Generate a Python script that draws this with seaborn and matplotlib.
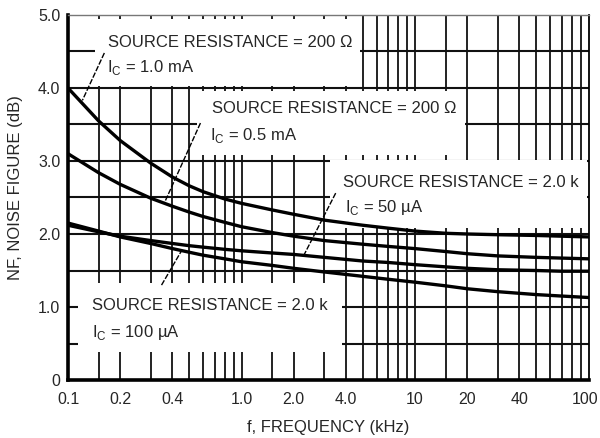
import numpy as np
import pandas as pd
import matplotlib
matplotlib.use("Agg")
import matplotlib.pyplot as plt
import matplotlib.transforms as mtransforms
from matplotlib.patches import Rectangle
from matplotlib.ticker import FixedLocator, NullFormatter
import seaborn as sns

# ---------------- data ----------------
freq_khz = [0.1, 0.15, 0.2, 0.3, 0.4, 0.5, 0.6, 0.8, 1.0, 1.5, 2.0, 3.0,
            5.0, 7.0, 10, 15, 20, 30, 50, 70, 100]
nf_200ohm_1ma = [4.00, 3.55, 3.28, 2.97, 2.78, 2.66, 2.58, 2.48, 2.42, 2.33, 2.27,
                 2.19, 2.12, 2.08, 2.04, 2.01, 2.00, 1.99, 1.98, 1.97, 1.96]
nf_200ohm_05ma = [3.10, 2.84, 2.68, 2.49, 2.38, 2.30, 2.24, 2.16, 2.10, 2.02, 1.97,
                  1.91, 1.86, 1.83, 1.80, 1.76, 1.73, 1.70, 1.68, 1.67, 1.66]
nf_2k_50ua = [2.12, 2.03, 1.97, 1.91, 1.87, 1.84, 1.82, 1.79, 1.77, 1.74, 1.72,
              1.68, 1.63, 1.61, 1.58, 1.55, 1.53, 1.51, 1.50, 1.49, 1.49]
nf_2k_100ua = [2.15, 2.04, 1.96, 1.87, 1.80, 1.75, 1.71, 1.66, 1.62, 1.57, 1.53,
               1.48, 1.42, 1.38, 1.34, 1.29, 1.25, 1.21, 1.17, 1.15, 1.13]
series_names = ["200 ohm, 1.0 mA", "200 ohm, 0.5 mA", "2.0k, 50 uA", "2.0k, 100 uA"]

x_ticks = [0.1, 0.2, 0.4, 1.0, 2.0, 4.0, 10, 20, 40, 100]
x_tick_labels = ["0.1", "0.2", "0.4", "1.0", "2.0", "4.0", "10", "20", "40", "100"]
x_grid = [0.15, 0.2, 0.3, 0.4, 0.5, 0.6, 0.7, 0.8, 0.9,
          1.0, 1.5, 2, 3, 4, 5, 6, 7, 8, 9,
          10, 15, 20, 30, 40, 50, 60, 70, 80, 90]
y_ticks = [0, 1.0, 2.0, 3.0, 4.0, 5.0]
y_tick_labels = ["0", "1.0", "2.0", "3.0", "4.0", "5.0"]
y_grid = [0.5, 1.0, 1.5, 2.0, 2.5, 3.0, 3.5, 4.0, 4.5]

label_lines = [
    ("SOURCE RESISTANCE = 200 \u03a9", "I$_\\mathregular{C}$ = 1.0 mA"),
    ("SOURCE RESISTANCE = 200 \u03a9", "I$_\\mathregular{C}$ = 0.5 mA"),
    ("SOURCE RESISTANCE = 2.0 k", "I$_\\mathregular{C}$ = 50 \u00b5A"),
    ("SOURCE RESISTANCE = 2.0 k", "I$_\\mathregular{C}$ = 100 \u00b5A"),
]
# pointer segments (label -> curve) in data coords: (f0, y0, f1, y1)
pointers = [
    (0.162, 4.48, 0.121, 3.83),
    (0.58, 3.52, 0.36, 2.43),
    (3.49, 2.56, 2.30, 1.72),
    (0.346, 1.30, 0.451, 1.77),
]

# ---------------- build frame ----------------
df = pd.concat([
    pd.DataFrame({"freq": freq_khz, "nf": vals, "curve": name})
    for name, vals in zip(series_names,
                          [nf_200ohm_1ma, nf_200ohm_05ma, nf_2k_50ua, nf_2k_100ua])
], ignore_index=True)

sns.set_style("white")
plt.rcParams["font.family"] = ["Liberation Sans", "DejaVu Sans"]
plt.rcParams["mathtext.fontset"] = "custom"
plt.rcParams["mathtext.rm"] = "Liberation Sans"

fig = plt.figure(figsize=(6.0, 4.38), dpi=100)
ax = fig.add_axes([68 / 600, 58 / 438, 520.5 / 600, 365 / 438])
ax.set_xscale("log")
ax.set_xlim(0.1, 100)
ax.set_ylim(0, 5.0)

# ticks
ax.xaxis.set_major_locator(FixedLocator(x_ticks))
ax.xaxis.set_minor_locator(FixedLocator(x_grid))
ax.xaxis.set_minor_formatter(NullFormatter())
ax.set_xticklabels(x_tick_labels)
ax.yaxis.set_major_locator(FixedLocator(y_ticks))
ax.yaxis.set_minor_locator(FixedLocator(y_grid))
ax.set_yticklabels(y_tick_labels)

# grid
for f in x_grid:
    ax.axvline(f, color="#111111", lw=1.3, zorder=0.5)
for y in y_grid:
    ax.axhline(y, color="#111111", lw=1.5, zorder=0.5)

ax.tick_params(axis="both", which="both", length=0)
ax.tick_params(axis="x", pad=9, labelsize=11.5)
ax.tick_params(axis="y", pad=5.5, labelsize=11.5)

# keep the last x tick label ("100") inside the canvas
last = ax.get_xticklabels()[-1]
last.set_transform(last.get_transform() +
                   mtransforms.ScaledTranslation(-3 / 100, 0, fig.dpi_scale_trans))

# white label boxes that interrupt the grid (axes fraction)
boxes = [(0.052, 0.806, 0.5095, 0.183),
         (0.248, 0.616, 0.515, 0.177),
         (0.504, 0.416, 0.494, 0.187),
         (0.019, 0.077, 0.508, 0.189)]
for (bx, by, bw, bh) in boxes:
    ax.add_patch(Rectangle((bx, by), bw, bh, transform=ax.transAxes,
                           facecolor="white", edgecolor="none", zorder=1))

# curves
sns.lineplot(data=df, x="freq", y="nf", hue="curve", palette=["black"] * 4,
             legend=False, lw=2.4, ax=ax, zorder=3)

# pointers
for f0, y0, f1, y1 in pointers:
    ax.plot([f0, f1], [y0, y1], color="black", lw=1.0,
            linestyle=(0, (4, 1.2)), zorder=3)

# label text (axes fraction, baselines)
text_pos = [((0.077, 0.912), (0.075, 0.844)),
            ((0.276, 0.7315), (0.273, 0.6575)),
            ((0.529, 0.529), (0.533, 0.460)),
            ((0.046, 0.192), (0.046, 0.118))]
for (l1, l2), (p1, p2) in zip(label_lines, text_pos):
    ax.text(p1[0], p1[1], l1, transform=ax.transAxes, fontsize=12,
            ha="left", va="baseline", zorder=4)
    ax.text(p2[0], p2[1], l2, transform=ax.transAxes, fontsize=12,
            ha="left", va="baseline", zorder=4)

# spines
for side in ["left", "bottom"]:
    ax.spines[side].set_linewidth(2.6)
    ax.spines[side].set_color("black")
ax.spines["right"].set_linewidth(1.3)
ax.spines["right"].set_color("black")
ax.spines["top"].set_linewidth(1.0)
ax.spines["top"].set_color("#777777")

ax.set_xlabel("f, FREQUENCY (kHz)", fontsize=12)
ax.set_ylabel("NF, NOISE FIGURE (dB)", fontsize=12)
ax.xaxis.set_label_coords(0.5, -0.11)
ax.yaxis.set_label_coords(-0.086, 0.527)

fig.savefig("out.png", dpi=100, facecolor="white")
